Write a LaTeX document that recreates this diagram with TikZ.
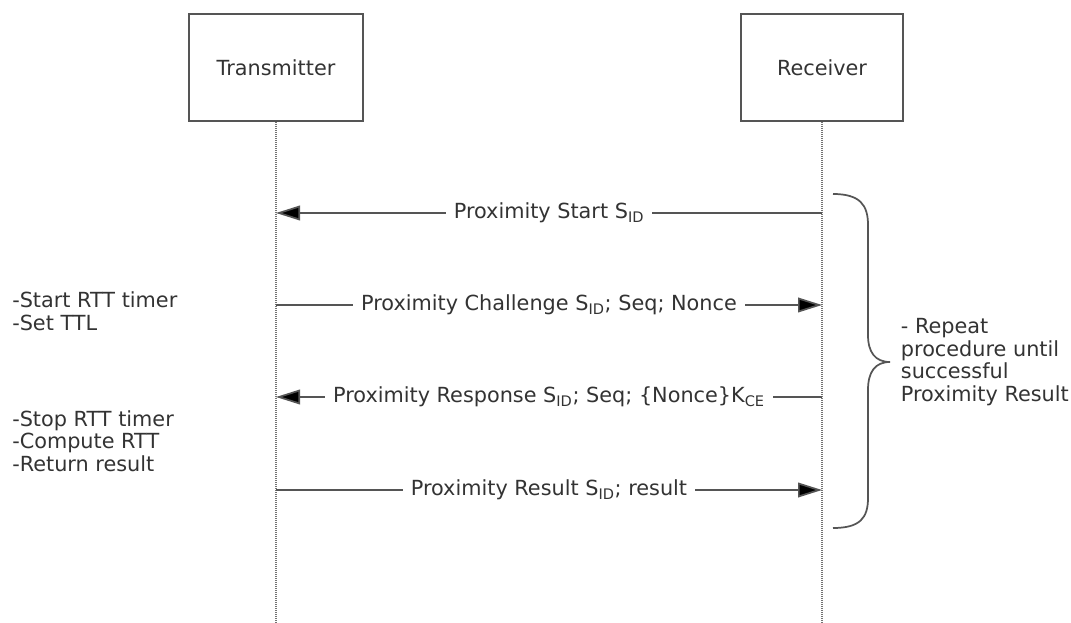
\documentclass[tikz,border=0pt]{standalone}
\usepackage{fontspec}
\setmainfont{DejaVu Sans}
\usetikzlibrary{arrows.meta, positioning}
\definecolor{ink}{HTML}{333333}
\definecolor{rule}{HTML}{555555}
\tikzstyle{party} = [rectangle, draw=rule, line width=1.4pt, text=ink, inner sep=0pt]
\tikzstyle{lifeline} = [draw=gray!90!black, line width=1.1pt, dash pattern=on 0.9pt off 0.6pt]
\tikzstyle{msg} = [draw=rule, line width=1.3pt, -{Triangle[length=18pt, width=11pt, fill=black]}]
\tikzstyle{msglabel} = [fill=white, text=ink, inner xsep=6pt, inner ysep=1pt, midway]
\tikzstyle{note} = [text=ink, align=left, anchor=west, inner sep=0pt]
\newcommand{\Sid}{S\textsubscript{ID}}
\begin{document}
\begin{tikzpicture}[x=0.75pt, y=-0.75pt, font=\fontsize{15.6}{17}\selectfont]
	\useasboundingbox (0,0) rectangle (1071,623);
	\node (Transmitter) [party, minimum width=130.5pt, minimum height=80.25pt] at (276,67.5) {Transmitter};
	\node (Receiver) [party, minimum width=121.5pt, minimum height=80.25pt] at (822,67.5) {Receiver};
	\coordinate (TxEnd) at (276,623);
	\coordinate (RxEnd) at (822,623);
	\draw [lifeline] (Transmitter.south) -- (TxEnd);
	\draw [lifeline] (Receiver.south) -- (RxEnd);
	% message points on the lifelines
	\coordinate (TxStart) at (276,213);
	\coordinate (RxStart) at (822,213);
	\coordinate (TxChallenge) at (276,305);
	\coordinate (RxChallenge) at (822,305);
	\coordinate (TxResponse) at (276,397);
	\coordinate (RxResponse) at (822,397);
	\coordinate (TxResult) at (276,490);
	\coordinate (RxResult) at (822,490);
	\draw [msg] (RxStart) -- node[msglabel]{Proximity Start \Sid} (TxStart);
	\draw [msg] (TxChallenge) -- node[msglabel]{Proximity Challenge \Sid; Seq; Nonce} (RxChallenge);
	\draw [msg] (RxResponse) -- node[msglabel]{Proximity Response \Sid; Seq; \{Nonce\}K\textsubscript{CE}} (TxResponse);
	\draw [msg] (TxResult) -- node[msglabel]{Proximity Result \Sid; result} (RxResult);
	% notes on the transmitter side
	\node (TimerNote) [note] at (12,311) {-Start RTT timer\\-Set TTL};
	\node (ComputeNote) [note] at (12,441) {-Stop RTT timer\\-Compute RTT\\-Return result};
	% repeat brace
	\draw [draw=rule, line width=1.3pt] (833,194) .. controls (860,194) and (868,205) .. (868,225) -- (868,335) .. controls (868,352) and (875,362) .. (890,362) .. controls (875,362) and (868,372) .. (868,390) -- (868,498) .. controls (868,518) and (860,528) .. (833,528);
	\coordinate (BraceTip) at (890,362);
	\node (RepeatNote) [note, right = 8pt of BraceTip] {- Repeat\\procedure until\\successful\\Proximity Result};
\end{tikzpicture}
\end{document}
